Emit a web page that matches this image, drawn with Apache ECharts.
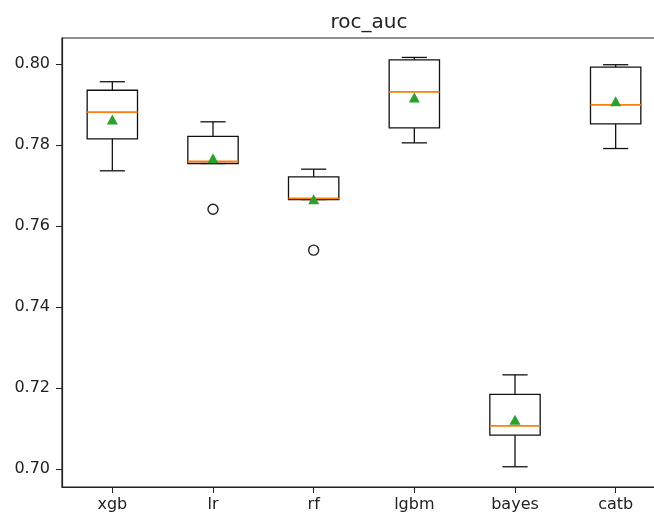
<!DOCTYPE html>
<html>
<head>
<meta charset="utf-8">
<script src="https://cdn.jsdelivr.net/npm/echarts@6/dist/echarts.min.js"></script>
<style>
    html, body { margin: 0; padding: 0; background: #fff; }
    #chart { width: 654px; height: 515px; }
</style>
</head>
<body>
<div id="chart"></div>
<script>
// 数据
var categories = ['xgb', 'lr', 'rf', 'lgbm', 'bayes', 'catb'];
var whiskerLow = [0.7737, 0.7755, 0.7666, 0.7806, 0.7006, 0.7792];
var q1 = [0.7816, 0.7755, 0.7666, 0.7843, 0.7084, 0.7853];
var median = [0.7882, 0.7760, 0.7669, 0.7932, 0.7107, 0.7900];
var q3 = [0.7936, 0.7822, 0.7722, 0.8011, 0.7185, 0.7993];
var whiskerHigh = [0.7957, 0.7858, 0.7741, 0.8017, 0.7233, 0.7999];
var means = [0.7864, 0.7768, 0.7667, 0.7918, 0.7122, 0.7909];
var outlierCats = ['lr', 'rf'];
var outlierValues = [0.7642, 0.7541];
var yTicks = [0.70, 0.72, 0.74, 0.76, 0.78, 0.80];

var fontFamily = 'DejaVu Sans';

var boxData = [];
for (var i = 0; i < categories.length; i++) {
    boxData.push([i, whiskerLow[i], q1[i], median[i], q3[i], whiskerHigh[i]]);
}
var meanData = [];
for (var i = 0; i < categories.length; i++) {
    meanData.push([i, means[i]]);
}
var outlierData = [];
for (var i = 0; i < outlierCats.length; i++) {
    outlierData.push([categories.indexOf(outlierCats[i]), outlierValues[i]]);
}

function renderBox(params, api) {
    var idx = api.value(0);
    var pLow = api.coord([idx, api.value(1)]);
    var pQ1 = api.coord([idx, api.value(2)]);
    var pMed = api.coord([idx, api.value(3)]);
    var pQ3 = api.coord([idx, api.value(4)]);
    var pHigh = api.coord([idx, api.value(5)]);
    var band = api.size([1, 0])[0];
    var half = band * 0.25;
    var capHalf = half * 0.5;
    var cx = pMed[0];
    var lineStyle = { stroke: '#111', lineWidth: 1.3, fill: null };
    return {
        type: 'group',
        children: [
            { type: 'line', shape: { x1: cx, y1: pQ1[1], x2: cx, y2: pLow[1] }, style: lineStyle },
            { type: 'line', shape: { x1: cx, y1: pQ3[1], x2: cx, y2: pHigh[1] }, style: lineStyle },
            { type: 'line', shape: { x1: cx - capHalf, y1: pLow[1], x2: cx + capHalf, y2: pLow[1] }, style: lineStyle },
            { type: 'line', shape: { x1: cx - capHalf, y1: pHigh[1], x2: cx + capHalf, y2: pHigh[1] }, style: lineStyle },
            { type: 'rect', shape: { x: cx - half, y: pQ3[1], width: half * 2, height: pQ1[1] - pQ3[1] }, style: lineStyle },
            { type: 'line', shape: { x1: cx - half, y1: pMed[1], x2: cx + half, y2: pMed[1] }, style: { stroke: '#ff7f0e', lineWidth: 1.8 } }
        ]
    };
}

var myChart = echarts.init(document.getElementById('chart'));
myChart.setOption({
    animation: false,
    backgroundColor: '#fff',
    title: {
        text: 'roc_auc',
        left: 364,
        textAlign: 'center',
        top: 8,
        textStyle: { fontFamily: fontFamily, fontSize: 20, fontWeight: 'normal', color: '#222' }
    },
    grid: {
        left: 62,
        top: 38,
        width: 604,
        height: 449,
        outerBoundsMode: 'none',
        containLabel: false,
        show: true,
        borderColor: '#222',
        borderWidth: 1.2,
        backgroundColor: 'transparent'
    },
    xAxis: {
        type: 'category',
        data: categories,
        boundaryGap: true,
        axisLine: { show: true, lineStyle: { color: '#222', width: 1.2 } },
        axisTick: { show: true, alignWithLabel: true, length: 6, lineStyle: { color: '#222' } },
        axisLabel: { margin: 10, fontFamily: fontFamily, fontSize: 16, color: '#222' },
        splitLine: { show: false }
    },
    yAxis: {
        type: 'value',
        min: 0.6956,
        max: 0.8065,
        axisLine: { show: true, lineStyle: { color: '#222', width: 1.2 } },
        axisTick: { show: true, length: 6, customValues: yTicks, lineStyle: { color: '#222' } },
        axisLabel: {
            margin: 12,
            customValues: yTicks,
            fontFamily: fontFamily,
            fontSize: 16,
            color: '#222',
            formatter: function (v) { return v.toFixed(2); }
        },
        splitLine: { show: false }
    },
    series: [
        {
            type: 'custom',
            renderItem: renderBox,
            data: boxData,
            encode: { x: 0, y: [1, 2, 3, 4, 5] },
            z: 2
        },
        {
            type: 'scatter',
            data: meanData,
            symbol: 'triangle',
            symbolSize: [11, 10],
            itemStyle: { color: '#2ca02c', opacity: 1 },
            z: 3
        },
        {
            type: 'scatter',
            data: outlierData,
            symbol: 'circle',
            symbolSize: 10,
            itemStyle: { color: 'rgba(0,0,0,0)', borderColor: '#222', borderWidth: 1.4, opacity: 1 },
            z: 3
        }
    ]
});
</script>
</body>
</html>
